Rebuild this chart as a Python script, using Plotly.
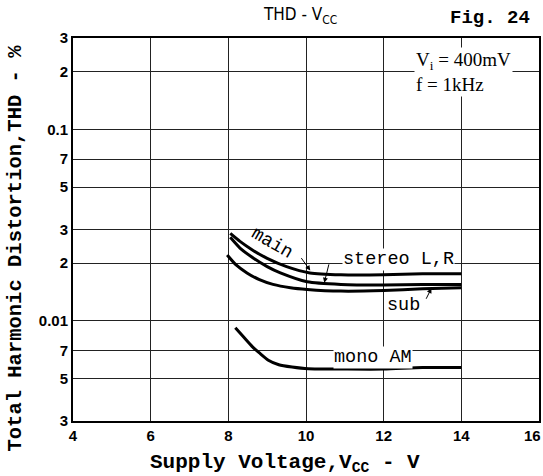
import math
import plotly.graph_objects as go

# ---- data ----
x_main = [8.05, 8.3, 8.6, 9.0, 9.5, 10.1, 10.9, 12.0, 13.0, 14.0]
y_main = [0.0286, 0.0260, 0.0236, 0.0212, 0.0192, 0.0178, 0.0174, 0.0174, 0.0176, 0.0176]

x_stereo = [8.05, 8.3, 8.64, 9.0, 9.34, 10.03, 10.9, 12.0, 13.0, 14.0]
y_stereo = [0.0273, 0.0240, 0.0213, 0.0192, 0.0178, 0.0160, 0.0155, 0.0154, 0.0155, 0.0155]

x_sub = [7.97, 8.2, 8.48, 8.8, 9.15, 9.6, 10.03, 10.9, 12.0, 13.0, 14.0]
y_sub = [0.0221, 0.0196, 0.0178, 0.0164, 0.0155, 0.0149, 0.0146, 0.0143, 0.0144, 0.0147, 0.0149]

x_mono = [8.18, 8.4, 8.61, 8.8, 9.03, 9.3, 9.64, 10.06, 11.0, 12.0, 13.0, 14.0]
y_mono = [0.0092, 0.0082, 0.00736, 0.0068, 0.00623, 0.0059, 0.00574, 0.00562, 0.0056, 0.0056, 0.0057, 0.0057]

x_ticks = [4, 6, 8, 10, 12, 14, 16]
x_ticktext = ["4", "6", "8", "10", "12", "14", ""]
x_last_label = "16"
y_tickvals = [0.003, 0.005, 0.007, 0.01, 0.02, 0.03, 0.05, 0.07, 0.1, 0.2, 0.3]
y_ticktext = ["3", "5", "7", "0.01", "2", "3", "5", "7", "0.1", "2", "3"]

# ---- layout geometry ----
W, H = 543, 476
L, R, T, B = 73, 4, 38, 55
PW, PH = W - L - R, H - T - B

def px(xp):
    return (xp - L) / PW

def py(yp):
    return (H - B - yp) / PH

fig = go.Figure()
for xs, ys in [(x_main, y_main), (x_stereo, y_stereo), (x_sub, y_sub), (x_mono, y_mono)]:
    fig.add_trace(go.Scatter(x=xs, y=ys, mode="lines",
                             line=dict(color="black", width=3, shape="spline", smoothing=0.6),
                             showlegend=False, hoverinfo="skip"))

MONO = "Liberation Mono, Courier New, monospace"
mono_font = dict(family=MONO, size=18.5, color="black")
tick_font = dict(family="Liberation Sans Narrow, Liberation Sans, Arial", size=15, color="black", weight="bold")

def txt(xp, yp, text, font, **kw):
    d = dict(xref="paper", yref="paper", x=px(xp), y=py(yp), text=text, showarrow=False,
             xanchor="center", yanchor="middle", font=font)
    d.update(kw)
    return d

annotations = [
    txt(300, 15, "THD - V<sub>CC</sub>",
        dict(family="DejaVu Sans Condensed, DejaVu Sans", size=17, color="black")),
    txt(490, 18, "Fig. 24", dict(family=MONO, size=19, color="black", weight="bold")),
    txt(414, 47, "V<sub>i</sub> = 400mV<br>f = 1kHz",
        dict(family="Liberation Serif, serif", size=19, color="black"),
        xanchor="left", yanchor="top", align="left", bgcolor="white", borderpad=1),
    txt(272, 243, "main", mono_font, textangle=30),
    txt(398, 259, "stereo L,R", mono_font, bgcolor="white", borderpad=0),
    txt(403, 305, "sub", mono_font),
    txt(373, 357, "mono AM", mono_font, bgcolor="white", borderpad=0),
    txt(532, 435, x_last_label, tick_font),
    # axis titles
    txt(285, 478, "Supply Voltage,V<sub>CC</sub> - V",
        dict(family=MONO, size=21, color="black", weight="bold"), yanchor="bottom"),
    txt(1, 248, "Total Harmonic Distortion,THD - %",
        dict(family=MONO, size=20.5, color="black", weight="bold"), xanchor="left", textangle=-90),
    # arrows
    dict(x=10.11, y=math.log10(0.0183), ax=-10, ay=-14, text="", showarrow=True,
         arrowhead=2, arrowsize=1, arrowwidth=1, arrowcolor="black"),
    dict(x=10.47, y=math.log10(0.0158), ax=5, ay=-20, text="", showarrow=True,
         arrowhead=2, arrowsize=1, arrowwidth=1, arrowcolor="black"),
    dict(x=13.23, y=math.log10(0.0148), ax=-6, ay=12, text="", showarrow=True,
         arrowhead=2, arrowsize=1, arrowwidth=1, arrowcolor="black"),
]

fig.update_layout(
    width=W, height=H,
    margin=dict(l=L, r=R, t=T, b=B, pad=0, autoexpand=False),
    paper_bgcolor="white", plot_bgcolor="white",
    annotations=annotations,
    xaxis=dict(range=[4, 16], tickvals=x_ticks, ticktext=x_ticktext,
               showgrid=True, gridcolor="#222", gridwidth=1,
               showline=True, linecolor="black", linewidth=2, mirror=True,
               ticks="", tickfont=tick_font, zeroline=False, automargin=False,
               ticklabeloverflow="allow"),
    yaxis=dict(type="log", range=[math.log10(0.003), math.log10(0.3)],
               tickvals=y_tickvals, ticktext=y_ticktext,
               showgrid=True, gridcolor="#222", gridwidth=1,
               showline=True, linecolor="black", linewidth=2, mirror=True,
               ticks="", tickfont=tick_font, zeroline=False, automargin=False,
               ticklabeloverflow="allow"),
)

fig.write_html("out.html", config={"displayModeBar": False},
               post_script="document.body.style.margin='0';document.body.style.overflow='hidden';")
